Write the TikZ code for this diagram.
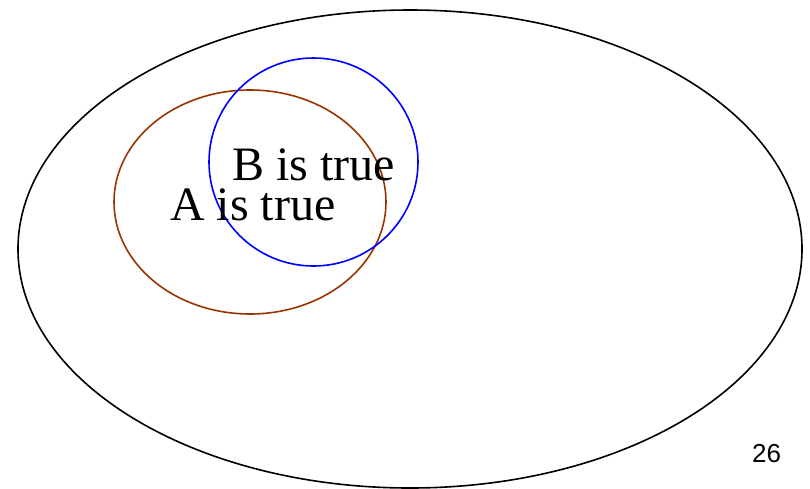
\documentclass[tikz,border=0pt]{standalone}
\usepackage{fontspec}
\usetikzlibrary{shapes.geometric}
\setmainfont{Liberation Serif}
\newfontfamily\numfont{Liberation Sans}
\definecolor{brownA}{RGB}{153,51,0}
\begin{document}
\begin{tikzpicture}[x=1pt,y=-1pt,
  setline/.style={line width=1.6pt},
  lbl/.style={anchor=base west,inner sep=0pt,font=\fontsize{48}{52}\selectfont}]
\useasboundingbox (0,0) rectangle (810,488);
\node[setline,draw=black,ellipse,minimum width=784,minimum height=478,inner sep=0pt] (U) at (410,249) {};
\node[setline,draw=brownA,ellipse,minimum width=272,minimum height=224,inner sep=0pt] (A) at (250,202) {};
\node[setline,draw=blue,ellipse,minimum width=209,minimum height=208,inner sep=0pt] (B) at (313.5,162) {};
\node[lbl] (tb) at (232,180) {B is true};
\node[lbl] (ta) at (170,220) {A is true};
\node[anchor=base west,inner sep=0pt,font=\numfont\fontsize{26}{28}\selectfont] (pg) at (752,462) {26};
\end{tikzpicture}
\end{document}
